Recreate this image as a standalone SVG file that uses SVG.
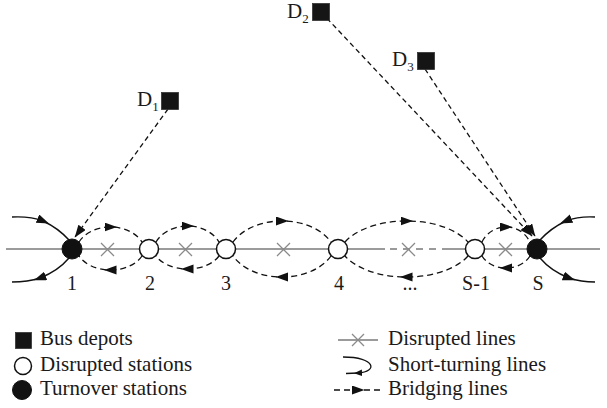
<svg xmlns="http://www.w3.org/2000/svg" width="607" height="408" viewBox="0 0 607 408">
<style>
text{font-family:"Liberation Serif","Times New Roman",serif;fill:#1a1a1a}
.lbl{font-size:20px;text-anchor:middle}
.leg{font-size:21px}
.sub{font-size:13px}
.rail{stroke:#7a7a7a;stroke-width:1.6;fill:none}
.x{stroke:#8a8a8a;stroke-width:1.3;fill:none}
.br{stroke:#111;stroke-width:1.3;fill:none;stroke-dasharray:6,4;marker-mid:url(#arr)}
.dep{stroke:#111;stroke-width:1.3;fill:none;stroke-dasharray:5,3.5;marker-end:url(#arrEnd)}
.st{stroke:#111;stroke-width:1.4;fill:none;marker-mid:url(#arr)}
.open{fill:#fff;stroke:#111;stroke-width:1.5}
.turn{fill:#111;stroke:#111;stroke-width:1}
.sq{fill:#151515;stroke:#333;stroke-width:0.8}
</style>
<defs>
<marker id="arr" markerUnits="userSpaceOnUse" markerWidth="14" markerHeight="12" refX="6" refY="4.5" orient="auto"><path d="M0,0 L12.5,4.5 L0,9 Z" fill="#111"/></marker>
<marker id="arrEnd" markerUnits="userSpaceOnUse" markerWidth="14" markerHeight="12" refX="12" refY="4.5" orient="auto"><path d="M0,0 L12.5,4.5 L0,9 Z" fill="#111"/></marker>
<marker id="arrS" markerUnits="userSpaceOnUse" markerWidth="9" markerHeight="8" refX="4" refY="3.2" orient="auto"><path d="M0,0 L8,3.2 L0,6.4 Z" fill="#111"/></marker>
</defs>

<g id="rail">
<path class="rail" d="M6,249 H385"/>
<path class="rail" d="M390,249 H447" stroke="#9a9a9a" stroke-dasharray="7,6"/>
<path class="rail" d="M447,249 H600"/>
<path class="x" d="M101,243 l13,13 m0,-13 l-13,13"/>
<path class="x" d="M179,243 l13,13 m0,-13 l-13,13"/>
<path class="x" d="M277,243 l13,13 m0,-13 l-13,13"/>
<path class="x" d="M402,243 l13,13 m0,-13 l-13,13" stroke="#9a9a9a"/>
<path class="x" d="M499,243 l13,13 m0,-13 l-13,13"/>
</g>

<g id="connectors">
<path class="br" d="M79,242 C83.7,234.5 94.8,227 110.5,227 S137.3,234.5 142,242"/>
<path class="br" d="M142,256 C137.3,263 126.3,270 110.5,270 S83.7,263 79,256"/>
<path class="br" d="M156,242 C160.7,234 171.8,226 187.5,226 S214.3,234 219,242"/>
<path class="br" d="M219,256 C214.3,262.5 203.3,269 187.5,269 S160.7,262.5 156,256"/>
<path class="br" d="M233,242 C240.4,231.5 257.5,221 282,221 S323.6,231.5 331,242"/>
<path class="br" d="M331,256 C323.6,266.5 306.5,277 282,277 S240.4,266.5 233,256"/>
<path class="br" d="M345,242 C354.2,231.5 375.8,221 406.5,221 S458.8,231.5 468,242"/>
<path class="br" d="M468,256 C458.8,266.5 437.3,277 406.5,277 S354.2,266.5 345,256"/>
<path class="br" d="M482,242 C485.6,234.5 494,227 506,227 S526.4,234.5 530,242"/>
<path class="br" d="M530,256 C526.4,262 518,268 506,268 S485.6,262 482,256"/>
<path class="st" d="M12,217 Q30,216 43,221 Q58,228 69,240"/>
<path class="st" d="M69,258 Q58,271 40,278 Q28,282 12,282"/>
<path class="st" d="M595,217 Q579,216 566,221 Q551,228 540,240"/>
<path class="st" d="M540,258 Q551,271 569,278 Q581,282 595,282"/>
<path class="dep" d="M168,109 L75,237"/>
<path class="dep" d="M321,12 L532,236"/>
<path class="dep" d="M425,69 L535,236"/>
</g>

<g id="station-1"><circle class="turn" cx="72" cy="249" r="10"/><text class="lbl" x="72" y="290">1</text></g>
<g id="station-2"><circle class="open" cx="149" cy="249" r="9.5"/><text class="lbl" x="150" y="290">2</text></g>
<g id="station-3"><circle class="open" cx="226" cy="249" r="9.5"/><text class="lbl" x="226" y="290">3</text></g>
<g id="station-4"><circle class="open" cx="338" cy="249" r="9.5"/><text class="lbl" x="339" y="290">4</text></g>
<g id="station-dots"><text class="lbl" x="410" y="290">...</text></g>
<g id="station-S-1"><circle class="open" cx="475" cy="249" r="9.5"/><text class="lbl" x="476" y="290">S-1</text></g>
<g id="station-S"><circle class="turn" cx="537" cy="249" r="10"/><text class="lbl" x="538" y="290">S</text></g>

<g id="depot-D1"><rect class="sq" x="161.5" y="92.5" width="17" height="17"/><text class="leg" x="137" y="106">D<tspan class="sub" dy="5">1</tspan></text></g>
<g id="depot-D2"><rect class="sq" x="312.5" y="3.5" width="17" height="17"/><text class="leg" x="287" y="18">D<tspan class="sub" dy="5">2</tspan></text></g>
<g id="depot-D3"><rect class="sq" x="417.5" y="52.5" width="17" height="17"/><text class="leg" x="392" y="66">D<tspan class="sub" dy="5">3</tspan></text></g>

<g id="legend">
<rect class="sq" x="15.5" y="332.5" width="16" height="16"/>
<text class="leg" x="40" y="345">Bus depots</text>
<circle class="open" cx="23" cy="366" r="8.5"/>
<text class="leg" x="40" y="371">Disrupted stations</text>
<circle class="turn" cx="22" cy="390" r="9.5"/>
<text class="leg" x="40" y="395">Turnover stations</text>
<path class="rail" d="M338,340 H378" stroke-width="1.3"/>
<path class="x" d="M352,334 l12,12 m0,-12 l-12,12"/>
<text class="leg" x="388" y="345">Disrupted lines</text>
<path d="M343,357 C376,357 378,372 358,373 L346,373.5" fill="none" stroke="#111" stroke-width="1.3" marker-mid="url(#arrS)"/>
<text class="leg" x="388" y="371">Short-turning lines</text>
<path d="M334,390 H358 H382" fill="none" stroke="#111" stroke-width="1.3" stroke-dasharray="6,4" marker-mid="url(#arr)"/>
<text class="leg" x="388" y="395">Bridging lines</text>
</g>
</svg>
